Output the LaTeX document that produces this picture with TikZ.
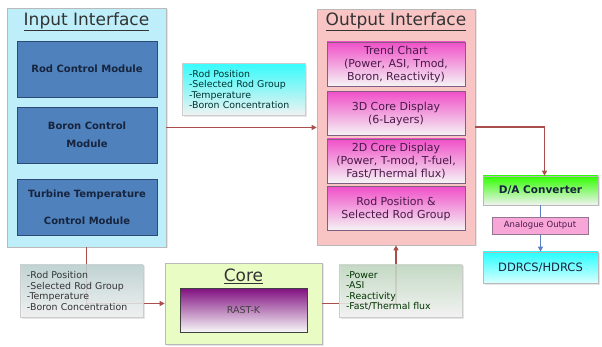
\documentclass[tikz,border=0pt]{standalone}
\usepackage{fontspec}
\setmainfont{DejaVu Sans}
\usetikzlibrary{arrows.meta,shadows}
% colours
\definecolor{inpanel}{HTML}{BDEEFA}
\definecolor{modblue}{HTML}{4F81BD}
\definecolor{modedge}{HTML}{2C4A75}
\definecolor{modtext}{HTML}{17243D}
\definecolor{outpanel}{HTML}{F8C4C4}
\definecolor{outmag}{HTML}{F050C8}
\definecolor{outtext}{HTML}{4A1A4A}
\definecolor{corepanel}{HTML}{E8FCC4}
\definecolor{rastpurple}{HTML}{800F80}
\definecolor{linkred}{HTML}{A94E4A}
\definecolor{linkblue}{HTML}{5A7FC0}
\tikzset{
    % Define standard arrow tip
    >={Triangle[length=5pt,width=5pt]},
    % Define panel style
    panel/.style={
           rectangle,
           draw=gray!55,
           line width=0.7pt,
           drop shadow={opacity=0.2,shadow xshift=1.5pt,shadow yshift=-1.5pt}},
    paneltitle/.style={
           text=black!80,
           font=\fontsize{17}{20}\selectfont},
    % Define module styles
    modbox/.style={
           rectangle,
           fill=modblue,
           draw=modedge,
           line width=0.8pt,
           minimum width=140,
           minimum height=56,
           align=center,
           text=modtext,
           font=\bfseries\fontsize{10}{14}\selectfont},
    outbox/.style={
           rectangle,
           top color=outmag,
           bottom color=gray!8,
           draw=outtext!70,
           line width=0.7pt,
           minimum width=138,
           minimum height=44,
           align=center,
           text=outtext,
           font=\fontsize{11}{13}\selectfont},
    % Define label style
    lbl/.style={
           rectangle,
           draw=gray!40,
           fill opacity=0.85,
           text opacity=1,
           minimum width=123,
           minimum height=52,
           text width=109,
           align=left,
           font=\fontsize{9.4}{10.6}\selectfont,
           drop shadow={opacity=0.2,shadow xshift=1.5pt,shadow yshift=-1.5pt}},
    % Define arrow style
    link/.style={
           ->,
           draw=linkred,
           line width=1.5pt}
}

\begin{document}
\begin{tikzpicture}[x=1pt,y=-1pt]
\useasboundingbox (0,0) rectangle (602,347);

% input interface
\node[panel,fill=inpanel,minimum width=159,minimum height=239] (inpan) at (86.5,127.5) {};
\node[paneltitle] (intitle) at (86.5,22) {\underline{Input Interface}};
\node[modbox] (rodmod) at (87,69) {Rod Control Module};
\node[modbox] (boronmod) at (87,135) {Boron Control\\[4pt]Module};
\node[modbox] (turbmod) at (87,207) {Turbine Temperature\\[13pt]Control Module};

% output interface
\node[panel,fill=outpanel,minimum width=158,minimum height=236] (outpan) at (396,127) {};
\node[paneltitle] (outtitle) at (396,22) {\underline{Output Interface}};
\node[outbox] (trend) at (396,64) {Trend Chart\\(Power, ASI, Tmod,\\Boron, Reactivity)};
\node[outbox] (core3d) at (396,113.5) {3D Core Display\\(6-Layers)};
\node[outbox] (core2d) at (396,161) {2D Core Display\\(Power, T-mod, T-fuel,\\Fast/Thermal flux)};
\node[outbox] (rodpos) at (396,208.5) {Rod Position \&\\Selected Rod Group};

% core
\node[panel,fill=corepanel,minimum width=157,minimum height=81] (corepan) at (243.5,303.5) {};
\node[paneltitle] (coretitle) at (243.5,276) {\underline{Core}};
\node[rectangle,top color=rastpurple,bottom color=gray!6,draw=black!75,line width=0.7pt,
minimum width=127,minimum height=44,text=black!75,font=\fontsize{9.5}{11}\selectfont] (rast) at (243.5,310) {RAST-K};

% converter chain
\node[panel,top color=green!75!lime,bottom color=gray!10,minimum width=115,minimum height=29,
text=modtext,font=\bfseries\fontsize{10.5}{12}\selectfont] (da) at (540.5,190.5) {D/A Converter};
\node[panel,top color=cyan!85,bottom color=cyan!15,minimum width=115,minimum height=31,
text=modtext,font=\fontsize{11.5}{13}\selectfont] (ddrcs) at (540.5,267.5) {DDRCS/HDRCS};
\draw[->,draw=linkblue,line width=1.5pt] (da.south) -- (ddrcs.north);
\node[rectangle,fill=magenta!35,draw=outtext!60,minimum width=96,minimum height=17,
text=outtext,font=\fontsize{8.5}{10}\selectfont] (anaout) at (540,225.5) {Analogue Output};

% connectors
\draw[link] (inpan.east) -- (inpan.east -| outpan.west);
\draw[link] (outpan.east) -| ([xshift=4pt]da.north);
\draw[link] (inpan.south) |- (corepan.west);
\draw[link] (corepan.east) -| (outpan.south);

% labels
\node[lbl,top color=cyan!90,bottom color=gray!8,text=teal!40!black] (inlbl) at (243.5,89.5)
{-Rod Position\\-Selected Rod Group\\-Temperature\\-Boron Concentration};
\node[lbl,top color=cyan!20!gray!45,bottom color=gray!10,text=black!80] (corein) at (81.5,291)
{-Rod Position\\-Selected Rod Group\\-Temperature\\-Boron Concentration};
\node[lbl,top color=green!25!gray!40,bottom color=gray!8,text=green!20!black] (coreout) at (400.5,291)
{-Power\\-ASI\\-Reactivity\\-Fast/Thermal flux};

\end{tikzpicture}
\end{document}
